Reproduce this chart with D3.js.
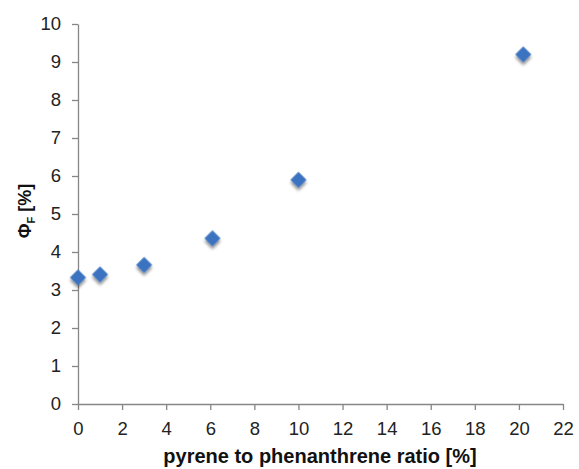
<!DOCTYPE html>
<html>
<head>
<meta charset="utf-8">
<script src="https://cdn.jsdelivr.net/npm/d3@7"></script>
<style>
  body { margin: 0; background: #fff; }
  svg { display: block; }
</style>
</head>
<body>
<svg id="chart" width="579" height="469"></svg>
<script>
// values
const ratio = [0, 1, 3, 6.1, 10, 20.2];
const phiF = [3.33, 3.41, 3.66, 4.36, 5.9, 9.2];
const xTicks = [0, 2, 4, 6, 8, 10, 12, 14, 16, 18, 20, 22];
const yTicks = [0, 1, 2, 3, 4, 5, 6, 7, 8, 9, 10];

const svg = d3.select("#chart"),
    margin = { top: 24, right: 16, bottom: 65, left: 78 },
    width = 563 - margin.left,
    height = 404 - margin.top,
    chart = svg.append("g").attr("transform", `translate(${margin.left},${margin.top})`);

const x = d3.scaleLinear().domain([0, 22]).range([0, width]);
const y = d3.scaleLinear().domain([0, 10]).range([height, 0]);

const axisColor = "#868686";
const font = "'Liberation Sans', Arial, sans-serif";

// shadow for the markers
const defs = svg.append("defs");
const shadow = defs.append("filter").attr("id", "shadow")
    .attr("x", "-50%").attr("y", "-50%").attr("width", "200%").attr("height", "200%");
shadow.append("feDropShadow")
    .attr("dx", 2).attr("dy", 2).attr("stdDeviation", 1.6)
    .attr("flood-color", "#000").attr("flood-opacity", 0.45);

chart.append("g")
    .attr("transform", `translate(0,${height})`)
    .call(d3.axisBottom(x).tickValues(xTicks).tickSize(6).tickSizeOuter(0).tickPadding(12))
    .call(g => g.selectAll("text")
        .style("fill", "#222")
        .style("font-family", font)
        .style("font-size", "18.5px"))
    .call(g => g.selectAll("path, line").attr("stroke", axisColor).attr("stroke-width", 1.3));

chart.append("g")
    .call(d3.axisLeft(y).tickValues(yTicks).tickSize(6).tickSizeOuter(0).tickPadding(11))
    .call(g => g.selectAll("text")
        .style("fill", "#222")
        .style("font-family", font)
        .style("font-size", "18.5px"))
    .call(g => g.selectAll("path, line").attr("stroke", axisColor).attr("stroke-width", 1.3));

// axis titles
svg.append("text")
    .attr("text-anchor", "middle")
    .attr("x", 320)
    .attr("y", 463)
    .style("font-family", font)
    .style("font-size", "20px")
    .style("font-weight", "bold")
    .style("fill", "#111")
    .text("pyrene to phenanthrene ratio [%]");

const yLabel = svg.append("text")
    .attr("text-anchor", "middle")
    .attr("transform", "translate(31,211) rotate(-90)")
    .style("font-family", font)
    .style("font-size", "18px")
    .style("font-weight", "bold")
    .style("fill", "#111");
yLabel.append("tspan").text("Φ");
yLabel.append("tspan").attr("dy", 4).style("font-size", "11px").text("F");
yLabel.append("tspan").attr("dy", -4).text(" [%]");

// diamond markers
const points = ratio.map((r, i) => ({ r, v: phiF[i] }));
chart.selectAll("path.pt")
    .data(points)
    .enter()
    .append("path")
    .attr("class", "pt")
    .attr("d", d3.symbol().type(d3.symbolSquare).size(128))
    .attr("transform", d => `translate(${x(d.r)},${y(d.v)}) rotate(45)`)
    .attr("fill", "#3b73c0")
    .attr("filter", "url(#shadow)");
</script>
</body>
</html>
